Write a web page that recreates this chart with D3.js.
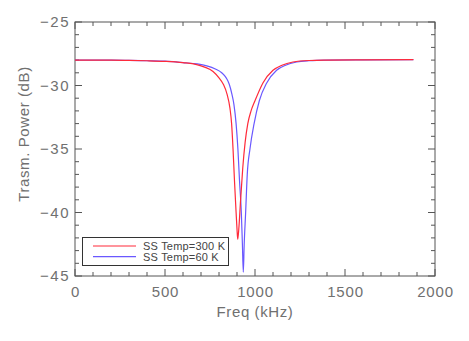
<!DOCTYPE html>
<html>
<head>
<meta charset="utf-8">
<script src="https://cdn.jsdelivr.net/npm/d3@7"></script>
<style>
  html, body { margin: 0; padding: 0; background: #fff; }
  svg { display: block; }
  text { font-family: "Liberation Sans", Arial, sans-serif; }
</style>
</head>
<body>
<svg id="chart" width="469" height="341"></svg>
<script>
// ---- data ----
const xTicks = [0, 500, 1000, 1500, 2000];
const yTicks = [-25, -30, -35, -40, -45];
const seriesNames = ["SS Temp=300 K", "SS Temp=60 K"];
const freq300 = [0, 100, 200, 300, 400, 500, 600, 676, 720, 767, 800, 824, 845, 861, 870, 878, 886, 895, 900, 904, 910, 920, 932, 945, 960, 978, 1000, 1044, 1100, 1150, 1211, 1300, 1400, 1600, 1880];
const db300   = [-28.0, -28.0, -28.0, -28.02, -28.05, -28.1, -28.2, -28.35, -28.55, -28.9, -29.4, -29.9, -30.7, -31.8, -33.0, -35.0, -37.5, -40.0, -41.3, -42.1, -41.3, -39.0, -36.5, -34.5, -33.0, -32.0, -31.2, -29.8, -28.8, -28.4, -28.15, -28.03, -28.0, -27.98, -27.97];
const freq60 = [0, 100, 200, 300, 400, 500, 600, 680, 732, 780, 815, 840, 857, 872, 883, 895, 905, 914, 924, 930, 935, 940, 948, 957, 972, 995, 1024, 1065, 1120, 1170, 1232, 1300, 1400, 1600, 1880];
const db60   = [-28.0, -28.0, -28.0, -28.02, -28.05, -28.08, -28.2, -28.3, -28.45, -28.7, -29.0, -29.4, -29.9, -30.7, -31.5, -33.0, -35.0, -37.5, -40.0, -42.5, -44.7, -42.5, -40.0, -37.0, -35.0, -33.0, -31.2, -29.8, -28.8, -28.4, -28.15, -28.05, -28.0, -27.98, -27.97];
const colors = ["#ff2a3a", "#6a58ff"];

// ---- layout ----
const svg = d3.select("#chart");
const L = 75, R = 435, T = 22, B = 276;
const x = d3.scaleLinear().domain([0, 2000]).range([L, R]);
const y = d3.scaleLinear().domain([-45, -25]).range([B, T]);
const axisColor = "#555";
const textColor = "#707070";

// frame
svg.append("rect").attr("x", L).attr("y", T).attr("width", R - L).attr("height", B - T)
  .attr("fill", "none").attr("stroke", axisColor).attr("stroke-width", 1);

const minorX = d3.range(0, 2001, 100);
const minorY = d3.range(-45, -24, 1);
function tickLen(isMajor) { return isMajor ? 7 : 4; }

minorX.forEach(v => {
  const len = tickLen(v % 500 === 0);
  svg.append("line").attr("x1", x(v)).attr("x2", x(v)).attr("y1", B).attr("y2", B - len).attr("stroke", axisColor);
  svg.append("line").attr("x1", x(v)).attr("x2", x(v)).attr("y1", T).attr("y2", T + len).attr("stroke", axisColor);
});
minorY.forEach(v => {
  const len = tickLen(v % 5 === 0);
  svg.append("line").attr("x1", L).attr("x2", L + len).attr("y1", y(v)).attr("y2", y(v)).attr("stroke", axisColor);
  svg.append("line").attr("x1", R).attr("x2", R - len).attr("y1", y(v)).attr("y2", y(v)).attr("stroke", axisColor);
});

// tick labels via axes
const xAxis = d3.axisBottom(x).tickValues(xTicks).tickSize(0).tickPadding(10).tickFormat(d3.format("d"));
const gx = svg.append("g").attr("transform", `translate(0,${B})`).call(xAxis);
gx.select(".domain").remove();
gx.selectAll("text").attr("fill", textColor).attr("font-size", 15).attr("letter-spacing", "0.8px")
  .attr("font-family", "'Liberation Sans', Arial, sans-serif");

const yAxis = d3.axisLeft(y).tickValues(yTicks).tickSize(0).tickPadding(5).tickFormat(d => "\u2212" + Math.abs(d));
const gy = svg.append("g").attr("transform", `translate(${L},0)`).call(yAxis);
gy.select(".domain").remove();
gy.selectAll("text").attr("fill", textColor).attr("font-size", 15).attr("letter-spacing", "1.5px")
  .attr("font-family", "'Liberation Sans', Arial, sans-serif");

// axis titles
svg.append("text").attr("x", (L + R) / 2).attr("y", 317).attr("text-anchor", "middle")
  .attr("fill", textColor).attr("font-size", 15).attr("letter-spacing", "0.6px").text("Freq (kHz)");
svg.append("text").attr("transform", `translate(29,${134}) rotate(-90)`).attr("text-anchor", "middle")
  .attr("fill", textColor).attr("font-size", 15).attr("letter-spacing", "0.6px").text("Trasm. Power (dB)");

// lines
const line = d3.line().x(d => x(d[0])).y(d => y(d[1])).curve(d3.curveMonotoneX);
const data300 = freq300.map((f, i) => [f, db300[i]]);
const data60 = freq60.map((f, i) => [f, db60[i]]);
svg.append("path").datum(data60).attr("d", line).attr("fill", "none").attr("stroke", colors[1]).attr("stroke-width", 1.2);
svg.append("path").datum(data300).attr("d", line).attr("fill", "none").attr("stroke", colors[0]).attr("stroke-width", 1.2);

// legend
const lg = svg.append("g");
lg.append("rect").attr("x", 82.5).attr("y", 237.5).attr("width", 146).attr("height", 28)
  .attr("fill", "#fff").attr("stroke", "#333").attr("stroke-width", 1);
seriesNames.forEach((n, i) => {
  const yy = 246 + i * 10.7;
  lg.append("line").attr("x1", 93).attr("x2", 136).attr("y1", yy).attr("y2", yy).attr("stroke", colors[i]).attr("stroke-width", 1.2);
  lg.append("text").attr("x", 143).attr("y", yy + 4).attr("font-size", 11).attr("fill", "#444")
    .attr("letter-spacing", "0.2px").text(n);
});
</script>
</body>
</html>
